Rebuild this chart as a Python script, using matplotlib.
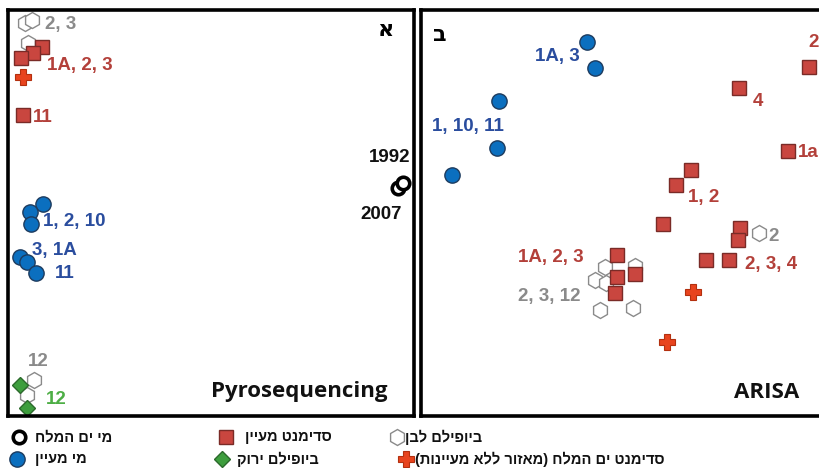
import matplotlib
matplotlib.use("Agg")
import matplotlib.pyplot as plt

# ordination scores (arbitrary units) for the two analyses
# --- Pyrosequencing ---
pyro_sea_water_x = [3.90, 3.95]
pyro_sea_water_y = [2.28, 2.33]
pyro_spring_water_x = [0.35, 0.22, 0.23, 0.12, 0.19, 0.28]
pyro_spring_water_y = [2.12, 2.04, 1.92, 1.59, 1.54, 1.43]
pyro_spring_sed_x = [0.34, 0.25, 0.13, 0.15]
pyro_spring_sed_y = [3.69, 3.63, 3.58, 3.01]
pyro_white_bio_x = [0.17, 0.24, 0.20, 0.26, 0.19]
pyro_white_bio_y = [3.93, 3.96, 3.73, 0.36, 0.21]
pyro_green_bio_x = [0.12, 0.19]
pyro_green_bio_y = [0.31, 0.08]
pyro_sea_sed_x = [0.15]
pyro_sea_sed_y = [3.39]

# --- ARISA ---
arisa_spring_water_x = [1.66, 1.74, 0.78, 0.76, 0.31]
arisa_spring_water_y = [3.74, 3.48, 3.15, 2.68, 2.41]
arisa_spring_sed_x = [3.88, 3.18, 3.67, 2.70, 2.55, 2.42, 3.19, 3.17, 2.85, 3.08,
                      1.96, 1.96, 2.14, 1.94]
arisa_spring_sed_y = [3.49, 3.28, 2.65, 2.46, 2.31, 1.92, 1.88, 1.76, 1.56, 1.56,
                      1.61, 1.39, 1.42, 1.23]
arisa_white_bio_x = [3.38, 1.84, 2.14, 1.74, 1.85, 1.79, 2.12]
arisa_white_bio_y = [1.83, 1.49, 1.50, 1.36, 1.33, 1.06, 1.08]
arisa_sea_sed_x = [2.72, 2.46]
arisa_sea_sed_y = [1.24, 0.74]

# sample labels: text, x, y, colour key, alignment
pyro_labels = [
    ("2, 3", 0.37, 3.91, "gray", "left"),
    ("1A, 2, 3", 0.39, 3.50, "red", "left"),
    ("11", 0.25, 2.98, "red", "left"),
    ("1, 2, 10", 0.35, 1.94, "blue", "left"),
    ("3, 1A", 0.24, 1.65, "blue", "left"),
    ("11", 0.47, 1.43, "blue", "left"),
    ("12", 0.20, 0.54, "gray", "left"),
    ("12", 0.38, 0.16, "green", "left"),
    ("1992", 4.02, 2.58, "black", "right"),
    ("2007", 3.94, 2.01, "black", "right"),
]
arisa_labels = [
    ("1A, 3", 1.59, 3.59, "blue", "right"),
    ("1, 10, 11", 0.11, 2.89, "blue", "left"),
    ("2", 3.87, 3.73, "red", "left"),
    ("4", 3.32, 3.14, "red", "left"),
    ("1a", 3.77, 2.63, "red", "left"),
    ("1, 2", 2.67, 2.18, "red", "left"),
    ("2", 3.47, 1.79, "gray", "left"),
    ("2, 3, 4", 3.24, 1.51, "red", "left"),
    ("1A, 2, 3", 0.97, 1.58, "red", "left"),
    ("2, 3, 12", 0.97, 1.19, "gray", "left"),
]

legend_names = ["מי ים המלח", "מי מעיין", "סדימנט מעיין", "ביופילם ירוק",
                "ביופילם לבן", "סדימנט ים המלח (מאזור ללא מעיינות)"]

label_colors = {"red": "#B3403A", "blue": "#2A4D9E", "gray": "#8A8A8A",
                "green": "#4DAE45", "black": "#111111"}

styles = {
    "sea_water": dict(marker="o", ms=9, mfc="white", mec="black", mew=2.6),
    "spring_water": dict(marker="o", ms=11, mfc="#0B6FBF", mec="#1D3B5E", mew=1),
    "spring_sed": dict(marker="s", ms=10.5, mfc="#C9463F", mec="#7A2B27", mew=1),
    "green_bio": dict(marker="D", ms=8, mfc="#3E9E3E", mec="#2C6A2C", mew=1),
    "white_bio": dict(marker="h", ms=11.5, mfc="white", mec="#8A8A8A", mew=1),
    "sea_sed": dict(marker="P", ms=11, mfc="#E8441E", mec="#B3300F", mew=0.8),
}

lab_font = ["Liberation Sans", "DejaVu Sans"]


def rtl(s):
    # matplotlib lays text out left to right, so flip Hebrew into visual order
    swap = {"(": ")", ")": "("}
    return "".join(swap.get(c, c) for c in reversed(s))


W, H = 819, 468
fig = plt.figure(figsize=(W / 100, H / 100), dpi=100)
ax1 = fig.add_axes([8 / W, 52 / H, 406 / W, 406 / H])
ax2 = fig.add_axes([421 / W, 52 / H, 406 / W, 406 / H])

for ax in (ax1, ax2):
    ax.set_xlim(0, 4.06)
    ax.set_ylim(0, 4.06)
    ax.set_xticks([])
    ax.set_yticks([])
    for sp in ax.spines.values():
        sp.set_linewidth(2.6)
        sp.set_color("black")


def pts(ax, x, y, key):
    ax.plot(x, y, ls="none", **styles[key])


pts(ax1, pyro_white_bio_x, pyro_white_bio_y, "white_bio")
pts(ax1, pyro_spring_sed_x, pyro_spring_sed_y, "spring_sed")
pts(ax1, pyro_green_bio_x, pyro_green_bio_y, "green_bio")
pts(ax1, pyro_sea_sed_x, pyro_sea_sed_y, "sea_sed")
pts(ax1, pyro_spring_water_x, pyro_spring_water_y, "spring_water")
pts(ax1, pyro_sea_water_x, pyro_sea_water_y, "sea_water")

pts(ax2, arisa_white_bio_x, arisa_white_bio_y, "white_bio")
pts(ax2, arisa_spring_sed_x, arisa_spring_sed_y, "spring_sed")
pts(ax2, arisa_sea_sed_x, arisa_sea_sed_y, "sea_sed")
pts(ax2, arisa_spring_water_x, arisa_spring_water_y, "spring_water")

for ax, labels in ((ax1, pyro_labels), (ax2, arisa_labels)):
    for txt, x, y, c, ha in labels:
        ax.text(x, y, txt, color=label_colors[c], ha=ha, va="center",
                fontsize=13.5, fontweight="bold", family=lab_font, clip_on=True)

title_font = ["Open Sans", "DejaVu Sans"]
ax1.text(2.91, 0.24, "Pyrosequencing", ha="center", va="center", fontsize=16,
         fontweight="bold", family=title_font, color="#111111")
ax2.text(3.46, 0.24, "ARISA", ha="center", va="center", fontsize=16,
         fontweight="bold", family=title_font, color="#111111")
ax1.text(3.77, 3.86, "א", ha="center", va="center", fontsize=16,
         fontweight="bold", family=["DejaVu Sans"])
ax2.text(0.19, 3.81, "ב", ha="center", va="center", fontsize=16,
         fontweight="bold", family=["DejaVu Sans"])

# legend below the panels: two rows, three columns
lax = fig.add_axes([0, 0, 1, 1], facecolor="none")
lax.set_xlim(0, W)
lax.set_ylim(H, 0)
lax.axis("off")
leg_keys = ["sea_water", "spring_water", "spring_sed", "green_bio", "white_bio", "sea_sed"]
marker_x = [19, 17, 226, 222, 397, 406]
text_x = [35, 35, 245, 237, 405, 415]
row_y = [437, 459, 437, 459, 437, 459]
for key, name, mx, tx, ry in zip(leg_keys, legend_names, marker_x, text_x, row_y):
    lax.plot([mx], [ry], ls="none", **styles[key])
    lax.text(tx, ry, rtl(name), ha="left", va="center", fontsize=10.5,
             fontweight="bold", family=lab_font, color="#111111")

fig.savefig("out.png", dpi=100)
